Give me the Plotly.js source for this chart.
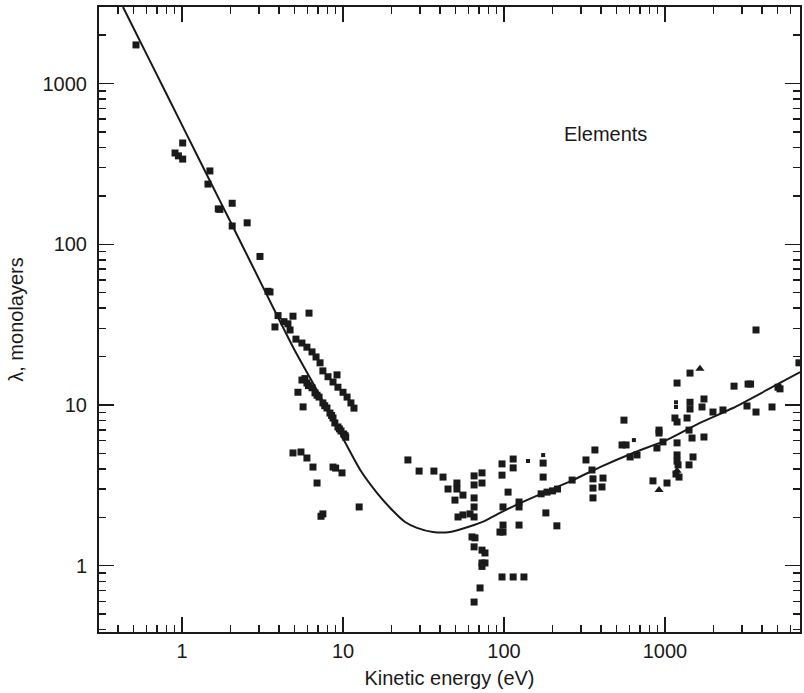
<!DOCTYPE html>
<html>
<head>
<meta charset="utf-8">
<script src="https://cdn.plot.ly/plotly-3.0.1.min.js"></script>
<style>
  html, body { margin: 0; padding: 0; background: #ffffff; }
  #chart { width: 804px; height: 693px; }
</style>
</head>
<body>
<div id="chart"></div>
<script>
// Measured data points (kinetic energy in eV, attenuation length in monolayers)
const squareEnergy = [
  0.518, 0.905, 0.95, 1.01, 1.01, 1.49, 1.45, 1.68, 1.72, 2.05, 2.05, 2.54, 3.05, 3.42, 3.52, 3.78, 3.95, 4.55, 4.69, 4.89, 6.15, 4.3,
  5.1, 5.56, 5.97, 6.42, 6.8, 7.2, 7.5, 8.07, 9.18, 8.67, 9.3, 10, 10.6, 11.2, 11.7,
  5.25, 5.65, 5.56, 5.8, 5.97, 6.1, 6.42, 6.7, 6.9, 7.1, 7.5, 7.7, 7.95, 8.3, 8.5, 8.67, 8.9, 9.3, 9.5, 9.72, 10.1, 10.3, 10.4,
  4.89, 5.48, 5.97, 6.51, 8.67, 9.0, 9.86, 6.9, 7.3, 7.5, 12.6,
  25.3, 29.7, 36.7, 41.8, 44.9, 51, 51, 55.6, 49.6, 65.2, 73, 73, 65.2, 65.2, 65.2, 51.8, 55.6, 61.5, 65.2, 63.3, 66, 65.2, 73, 76.2, 73, 76.2, 73, 71, 65.2,
  97.2, 97.2, 114, 114, 175, 175, 106, 98.6, 98.6, 98.6, 94.4, 124, 124, 124, 182, 213, 97.2, 114, 133,
  170, 185, 200, 215, 265,
  323, 367, 352, 412, 357, 357, 357, 406, 556, 541, 573, 670, 607, 842, 1029, 891, 918, 918, 972,
  1188, 1153, 1188, 1188, 1188, 1188, 1205, 1170, 1222, 1371, 1430, 1430, 1430, 1410, 1472, 1493, 1410,
  1746, 1746, 1698, 1986, 2291, 2684, 3280, 3400, 3230, 3675, 4620, 5035, 5180, 3675, 6790
];
const squareLambda = [
  1740, 370, 355, 427, 339, 286, 237, 166, 165, 180, 130, 136, 84, 51, 50.5, 30.6, 36, 32, 29.3, 35.7, 37.3, 33,
  25.7, 24.3, 22.9, 21.4, 19.9, 18.3, 16.3, 15, 15.4, 13.9, 12.9, 12, 11.2, 10.3, 9.56,
  12.0, 9.73, 14.3, 14.6, 13.7, 13.2, 12.8, 11.9, 11.5, 11.2, 10.3, 9.9, 9.58, 8.91, 8.6, 8.3, 7.73, 7.3, 7.1, 6.89, 6.6, 6.45, 6.3,
  5.03, 5.1, 4.68, 4.11, 4.11, 4.05, 3.78, 3.27, 2.03, 2.1, 2.32,
  4.55, 3.88, 3.88, 3.56, 3.0, 3.27, 3.0, 2.75, 2.56, 3.62, 3.78, 3.27, 3.18, 2.64, 2.32, 2.01, 2.07, 2.1, 2.01, 1.51, 1.49, 1.31, 1.25, 1.2, 1.04, 1.04, 0.99, 0.727, 0.594,
  4.3, 3.66, 4.61, 4.06, 4.35, 3.56, 2.87, 2.32, 1.79, 1.62, 1.62, 2.49, 2.32, 1.79, 2.13, 1.77, 0.851, 0.851, 0.851,
  2.8, 2.87, 2.92, 3.0, 3.41,
  4.55, 5.25, 3.94, 3.51, 3.47, 3.04, 2.64, 3.09, 8.05, 5.64, 5.64, 4.89, 4.75, 3.37, 3.27, 5.40, 6.98, 6.69, 5.89,
  13.7, 8.3, 7.84, 5.81, 4.89, 4.48, 4.24, 3.72, 3.56, 8.3, 10.4, 9.44, 15.8, 6.98, 6.23, 4.75, 4.24,
  6.32, 10.9, 9.72, 9.04, 9.31, 13.1, 13.5, 13.5, 9.86, 9.04, 9.72, 12.9, 12.6, 29.3, 18.3
];
const dotEnergy = [141, 175, 641, 1170, 1170, 1170];
const dotLambda = [4.48, 4.88, 6.05, 10.4, 9.72, 8.42];
const triangleEnergy = [918, 1648, 1188];
const triangleLambda = [2.96, 16.8, 3.9];

// Universal curve
const curveEnergy = [0.43, 0.6, 0.8, 1.1, 1.5, 2.0, 2.8, 3.8, 5.0, 6.3, 8.0, 10.6, 12.8, 16.3, 20.2, 24.3, 28.8, 36.2, 46.2, 59.7, 76.2, 94.4, 126, 175, 268, 395, 633, 1029, 1648, 2644, 4300, 6900];
const curveLambda = [2998, 1537, 864, 456, 245, 138, 70.2, 37.9, 22.0, 14.5, 9.4, 5.55, 3.94, 2.83, 2.22, 1.87, 1.72, 1.62, 1.62, 1.74, 1.90, 2.13, 2.45, 2.83, 3.41, 4.11, 5.03, 6.06, 7.73, 9.58, 12.4, 16.0];

const xTickVals = [1, 10, 100, 1000];
const xTickText = ['1', '10', '100', '1000'];
const yTickVals = [1, 10, 100, 1000];
const yTickText = ['1', '10', '100', '1000'];

const ink = '#1a1a1a';
const fontFamily = 'Liberation Sans, Arial, Helvetica, sans-serif';

const traces = [
  {
    x: curveEnergy, y: curveLambda, type: 'scatter', mode: 'lines',
    line: { color: ink, width: 2, shape: 'spline', smoothing: 0.6 },
    hoverinfo: 'skip', showlegend: false
  },
  {
    x: squareEnergy, y: squareLambda, type: 'scatter', mode: 'markers',
    marker: { symbol: 'square', size: 7, color: ink, line: { width: 0 } },
    showlegend: false
  },
  {
    x: dotEnergy, y: dotLambda, type: 'scatter', mode: 'markers',
    marker: { symbol: 'square', size: 4, color: ink, line: { width: 0 } },
    showlegend: false
  },
  {
    x: triangleEnergy, y: triangleLambda, type: 'scatter', mode: 'markers',
    marker: { symbol: 'triangle-up', size: 8, color: ink, line: { width: 0 } },
    showlegend: false
  }
];

const axisCommon = {
  type: 'log',
  showgrid: false,
  zeroline: false,
  showline: true,
  linecolor: ink,
  linewidth: 2,
  mirror: 'allticks',
  ticks: 'inside',
  ticklen: 15,
  tickwidth: 1.5,
  tickcolor: ink,
  tickmode: 'array',
  tickfont: { family: fontFamily, size: 20, color: ink },
  minor: { ticks: 'inside', ticklen: 7, tickwidth: 1.5, tickcolor: ink, dtick: 'D1', showgrid: false }
};

const layout = {
  width: 804, height: 693,
  margin: { l: 99, r: 4, t: 7, b: 61 },
  paper_bgcolor: '#ffffff',
  plot_bgcolor: '#ffffff',
  font: { family: fontFamily, size: 20, color: ink },
  showlegend: false,
  xaxis: Object.assign({}, axisCommon, {
    range: [-0.5155, 3.8385],
    tickvals: xTickVals, ticktext: xTickText,
    ticklabelstandoff: 0,
    title: { text: 'Kinetic energy (eV)', font: { family: fontFamily, size: 20, color: ink }, standoff: 10 }
  }),
  yaxis: Object.assign({}, axisCommon, {
    range: [-0.4126, 3.4766],
    tickvals: yTickVals, ticktext: yTickText,
    ticklabelstandoff: 6,
    title: { text: 'λ, monolayers', font: { family: fontFamily, size: 20, color: ink }, standoff: 14 }
  }),
  annotations: [
    {
      text: 'Elements', xref: 'paper', yref: 'paper',
      x: (605 - 99) / 701, y: (632 - 134) / 625,
      xanchor: 'center', yanchor: 'middle', showarrow: false,
      font: { family: fontFamily, size: 20, color: ink }
    }
  ]
};

Plotly.newPlot('chart', traces, layout, { staticPlot: true, displayModeBar: false });
</script>
</body>
</html>
